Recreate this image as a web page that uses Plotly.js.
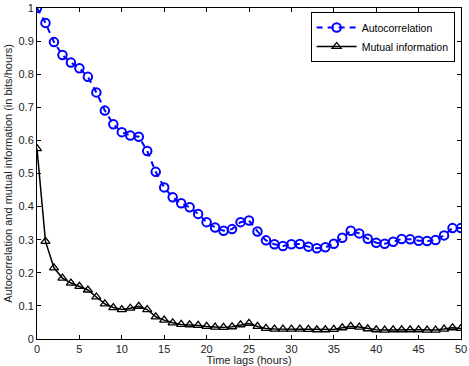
<!DOCTYPE html>
<html>
<head>
<meta charset="utf-8">
<script src="https://cdn.plot.ly/plotly-3.0.1.min.js"></script>
<style>
  html, body { margin: 0; padding: 0; background: #fff; }
  #chart { width: 469px; height: 366px; }
</style>
</head>
<body>
<div id="chart"></div>
<script>
// Time lags in hours
const lags = [0,1,2,3,4,5,6,7,8,9,10,11,12,13,14,15,16,17,18,19,20,21,22,23,24,25,
  26,27,28,29,30,31,32,33,34,35,36,37,38,39,40,41,42,43,44,45,46,47,48,49,50];

// Autocorrelation per lag
const autocorrelation = [1.0,0.955,0.897,0.858,0.835,0.818,0.792,0.745,0.69,0.649,0.625,
  0.615,0.611,0.568,0.505,0.458,0.428,0.41,0.398,0.378,0.353,0.337,0.327,0.332,0.353,0.358,
  0.325,0.298,0.286,0.281,0.286,0.287,0.279,0.274,0.277,0.288,0.306,0.327,0.319,0.303,0.291,
  0.288,0.294,0.302,0.301,0.297,0.296,0.299,0.313,0.335,0.335];

// Mutual information per lag (bits/hours)
const mutualInformation = [0.575,0.295,0.215,0.184,0.169,0.159,0.148,0.127,0.106,0.095,0.089,
  0.093,0.099,0.089,0.067,0.057,0.049,0.044,0.043,0.041,0.038,0.036,0.035,0.037,0.043,0.047,
  0.038,0.032,0.03,0.03,0.03,0.03,0.029,0.028,0.028,0.029,0.034,0.038,0.036,0.031,0.028,
  0.027,0.028,0.028,0.028,0.028,0.027,0.027,0.03,0.034,0.032];

const font = { family: 'Liberation Sans, Arial, sans-serif', size: 11, color: '#222' };

const traces = [
  {
    x: lags, y: autocorrelation, name: 'Autocorrelation',
    type: 'scatter', mode: 'lines+markers',
    line: { color: '#0000ff', width: 2, dash: '6px,5px' },
    marker: { symbol: 'circle-open', size: 8.5, color: '#0000ff', line: { width: 2, color: '#0000ff' } }
  },
  {
    x: lags, y: mutualInformation, name: 'Mutual information',
    type: 'scatter', mode: 'lines+markers',
    line: { color: '#000', width: 1.5 },
    marker: { symbol: 'triangle-up-open', size: 8, color: '#000', line: { width: 1.3, color: '#000' } }
  }
];

const axisCommon = {
  showline: true, linecolor: '#000', linewidth: 1, mirror: 'ticks',
  ticks: 'inside', ticklen: 4, tickcolor: '#000', tickwidth: 1,
  showgrid: false, zeroline: false, tickfont: font
};

const layout = {
  width: 469, height: 366,
  margin: { l: 37, r: 8, t: 8, b: 27 },
  paper_bgcolor: '#fff', plot_bgcolor: '#fff',
  font: font,
  showlegend: true,
  legend: {
    x: 0.985, y: 0.988, xanchor: 'right', yanchor: 'top',
    bgcolor: '#fff', bordercolor: '#000', borderwidth: 1,
    font: { family: 'Liberation Sans, Arial, sans-serif', size: 10.5, color: '#000' },
    tracegroupgap: 0, itemwidth: 40
  },
  xaxis: Object.assign({}, axisCommon, {
    range: [0, 50], tickmode: 'linear', tick0: 0, dtick: 5,
    title: { text: 'Time lags (hours)', font: font, standoff: 5 }
  }),
  yaxis: Object.assign({}, axisCommon, {
    range: [0, 1], tickmode: 'linear', tick0: 0, dtick: 0.1,
    title: { text: 'Autocorrelation and mutual information (in bits/hours)', font: font, standoff: 3 }
  })
};

Plotly.newPlot('chart', traces, layout, { displayModeBar: false, staticPlot: true });
</script>
</body>
</html>
